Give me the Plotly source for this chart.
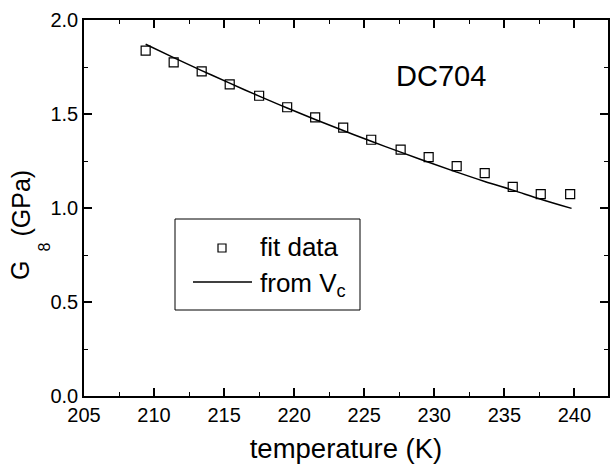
import plotly.graph_objects as go

# fit data (open squares)
fit_T = [209.4, 211.4, 213.4, 215.4, 217.5, 219.5, 221.5, 223.5, 225.5, 227.6,
         229.6, 231.6, 233.6, 235.6, 237.6, 239.7]
fit_G = [1.837, 1.775, 1.727, 1.658, 1.597, 1.536, 1.482, 1.427, 1.363, 1.310,
         1.271, 1.223, 1.185, 1.112, 1.074, 1.074]

# curve "from Vc"
vc_T = [209.4, 211.4, 213.4, 215.4, 217.5, 219.5, 221.5, 223.5, 225.5, 227.6,
        229.6, 231.6, 233.6, 235.6, 237.6, 239.8]
vc_G = [1.871, 1.800, 1.731, 1.664, 1.595, 1.532, 1.471, 1.412, 1.355, 1.297,
        1.243, 1.191, 1.141, 1.095, 1.047, 0.998]

x_ticks = [205, 210, 215, 220, 225, 230, 235, 240]
y_ticks = [0.0, 0.5, 1.0, 1.5, 2.0]

FONT = "Liberation Sans, Arial, sans-serif"
W, H = 610, 466
ML, MR, MT, MB = 84, 2, 20, 70
PW, PH = W - ML - MR, H - MT - MB


def px(x):
    return (x - ML) / PW


def py(y):
    return (H - MB - y) / PH


fig = go.Figure()
fig.add_trace(go.Scatter(
    x=fit_T, y=fit_G, mode="markers", name="fit data", showlegend=False,
    marker=dict(symbol="square-open", size=9, color="black", line=dict(width=1.2, color="black")),
))
fig.add_trace(go.Scatter(
    x=vc_T, y=vc_G, mode="lines", name="from V<sub>c</sub>", showlegend=False,
    line=dict(color="black", width=1.5, shape="spline"),
))

axis_common = dict(
    showline=True, linecolor="black", linewidth=1.5, mirror="ticks",
    ticks="inside", ticklen=8, tickwidth=1.5, tickcolor="black",
    showgrid=False, zeroline=False, automargin=False,
    tickfont=dict(family=FONT, size=20, color="black"),
)

NB = "\u00a0"
fig.update_xaxes(
    range=[205, 242.4], tickvals=x_ticks, ticktext=[str(v) for v in x_ticks],
    minor=dict(ticks="inside", ticklen=4, tickwidth=1.2, tickcolor="black", dtick=2.5, showgrid=False),
    title=dict(text=NB * 2 + "temperature (K)", font=dict(family=FONT, size=27.5, color="black"), standoff=14),
    **axis_common,
)
fig.update_yaxes(
    range=[0, 2.0], tickvals=y_ticks, ticktext=[f"{v:.1f}" for v in y_ticks],
    minor=dict(ticks="inside", ticklen=4, tickwidth=1.2, tickcolor="black", dtick=0.25, showgrid=False),
    **axis_common,
)

# y-axis title "G 8 (GPa)" placed piece by piece as in the reference
for txt, cx, cy, sz in [("G", 20, 271, 25), ("8", 44, 247.5, 16), ("(GPa)", 21, 203.5, 25)]:
    fig.add_annotation(x=px(cx), y=py(cy), xref="paper", yref="paper", text=txt, textangle=-90,
                       xanchor="center", yanchor="middle", showarrow=False,
                       font=dict(family=FONT, size=sz, color="black"))

fig.add_annotation(x=230.5, y=1.70, text="DC704", showarrow=False,
                   font=dict(family=FONT, size=29, color="black"))

# legend box, drawn by hand to match the reference layout
fig.add_shape(type="rect", xref="paper", yref="paper", x0=px(175), x1=px(360), y0=py(310), y1=py(219),
              line=dict(color="black", width=1), fillcolor="white", layer="above")
fig.add_shape(type="rect", xref="paper", yref="paper", x0=px(218), x1=px(226), y0=py(252), y1=py(244),
              line=dict(color="black", width=1.2), layer="above")
fig.add_shape(type="line", xref="paper", yref="paper", x0=px(193), x1=px(252), y0=py(282), y1=py(282),
              line=dict(color="black", width=1.5), layer="above")
fig.add_annotation(x=px(258), y=py(247), xref="paper", yref="paper", text="fit data",
                   xanchor="left", yanchor="middle", showarrow=False,
                   font=dict(family=FONT, size=26, color="black"))
fig.add_annotation(x=px(258), y=py(284), xref="paper", yref="paper", text="from V<sub>c</sub>",
                   xanchor="left", yanchor="middle", showarrow=False,
                   font=dict(family=FONT, size=26, color="black"))

fig.update_layout(
    width=W, height=H,
    margin=dict(l=ML, r=MR, t=MT, b=MB),
    paper_bgcolor="white", plot_bgcolor="white",
    font=dict(family=FONT, color="black"),
    showlegend=False,
)

fig.write_html("out.html", config={"displayModeBar": False},
               post_script="document.body.style.margin='0';document.body.style.padding='0';")
